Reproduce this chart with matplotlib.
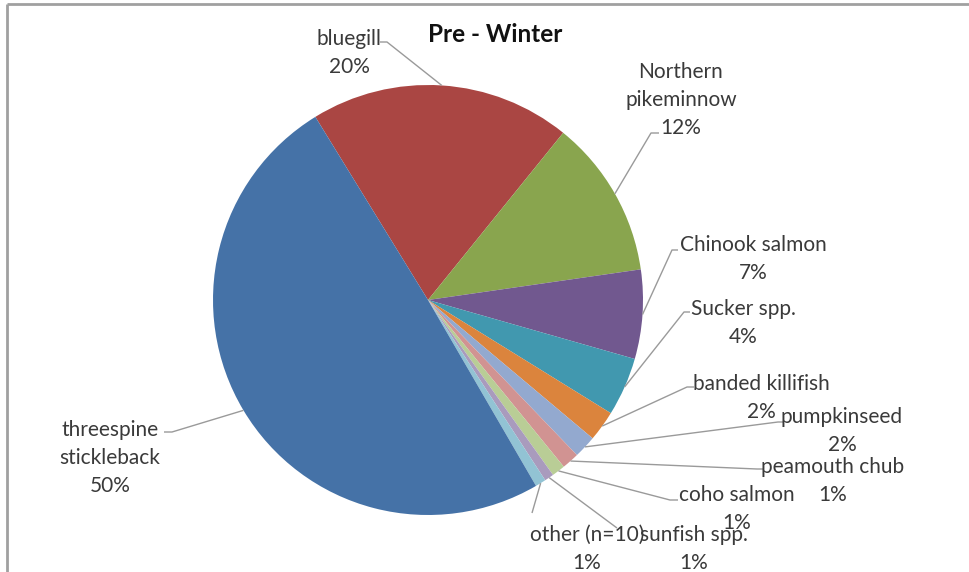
import matplotlib
matplotlib.use('Agg')
import matplotlib.pyplot as plt
import numpy as np

# ---- data ----
species = ['bluegill', 'Northern\npikeminnow', 'Chinook salmon', 'Sucker spp.',
           'banded killifish', 'pumpkinseed', 'peamouth chub', 'coho salmon',
           'sunfish spp.', 'other (n=10)', 'threespine\nstickleback']
percent = [19.6, 11.9, 6.7, 4.4, 2.3, 1.7, 1.3, 1.0, 0.7, 0.8, 49.6]
colors = ['#AA4643', '#89A54E', '#71588F', '#4198AF', '#DB843D', '#93A9CF',
          '#D19392', '#B9CD96', '#A99BBD', '#92C3D4', '#4572A7']
title = 'Pre - Winter'

# ---- layout (pixel positions, y measured from top) ----
W, H = 970, 572
CX, CY, R = 428, 300, 215
LINE_H = 28
label_pos = [(349, 37), (681, 70), (753, 243), (743, 307), (761, 382),
             (842, 415), (833, 465), (737, 493), (694, 533), (587, 533), (110, 428)]
leader_end = [[(387, 42), (380, 42)],
              [(651, 133), (659, 133)],
              [(672, 250), (678, 250)],
              [(684, 312), (690, 312)],
              [(687, 387), (694, 387)],
              [(778, 422), (784, 422)],
              [(757, 469), (763, 469)],
              [(670, 500), (678, 500)],
              [(617, 528)],
              [(532, 513)],
              [(172, 432), (164, 432)]]

FONT = ['Lato', 'DejaVu Sans']
TXT = '#3a3a3a'
LINE = '#9a9a9a'


def py(y):
    return H - y


fig = plt.figure(figsize=(W / 100, H / 100), dpi=100)
ax = fig.add_axes([0, 0, 1, 1])
wedges, _ = ax.pie(percent, colors=colors, startangle=90 + 31.6, counterclock=False,
                   center=(CX, py(CY)), radius=R, wedgeprops=dict(linewidth=0))
ax.set_xlim(0, W)
ax.set_ylim(0, H)
ax.set_aspect('equal')
ax.axis('off')

total = sum(percent)
for w, name, val, (lx, ly), pts in zip(wedges, species, percent, label_pos, leader_end):
    mid = np.deg2rad((w.theta1 + w.theta2) / 2)
    sx = CX + R * np.cos(mid)
    sy = py(CY) + R * np.sin(mid)
    xs = [sx] + [p[0] for p in pts]
    ys = [sy] + [py(p[1]) for p in pts]
    ax.plot(xs, ys, color=LINE, lw=1.0, solid_capstyle='butt')
    pct = 100 * val / total
    lines = name.split('\n') + [f'{pct:.0f}%']
    for i, s in enumerate(lines):
        ax.text(lx, py(ly + LINE_H * i), s, ha='center', va='center_baseline',
                fontsize=15, color=TXT, family=FONT)

ax.text(495, py(35), title, ha='center', va='center', fontsize=17.5,
        fontweight='bold', color='#111111', family=FONT)

# chart border (top and left)
ax.plot([7, 7], [0, py(4)], color='#a0a0a0', lw=2, solid_capstyle='butt')
ax.plot([7, W], [py(4), py(4)], color='#a0a0a0', lw=2, solid_capstyle='butt')

fig.savefig('out.png', dpi=100)
